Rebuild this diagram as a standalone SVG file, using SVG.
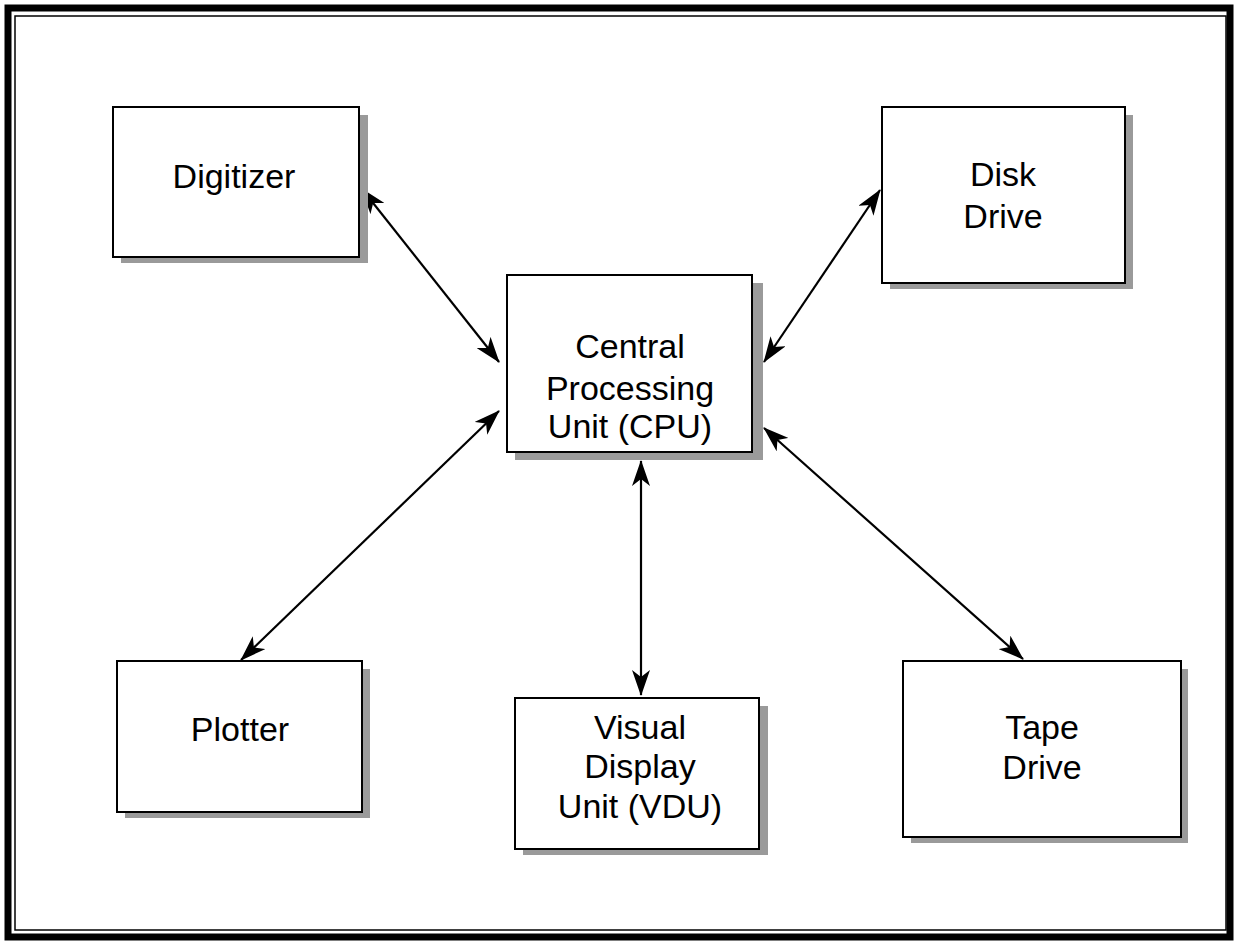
<svg xmlns="http://www.w3.org/2000/svg" width="1234" height="942" viewBox="0 0 1234 942">
<style>
.box{fill:#fff;stroke:#000;stroke-width:2}
.sh{fill:#9a9a9a}
.t{font-family:"Liberation Sans",Arial,sans-serif;font-size:34px;fill:#000;text-anchor:middle}
.c{stroke:#000;stroke-width:2.2;fill:none;marker-start:url(#a);marker-end:url(#a)}
</style>
<defs>
<marker id="a" viewBox="0 0 26 18" refX="25" refY="9" markerWidth="26" markerHeight="18" markerUnits="userSpaceOnUse" orient="auto-start-reverse">
<path d="M0,0 L26,9 L0,18 L7,9 Z" fill="#000"/>
</marker>
</defs>
<rect x="0" y="0" width="1234" height="942" fill="#fff"/>
<rect x="8" y="8" width="1222" height="929" fill="none" stroke="#000" stroke-width="7"/>
<rect x="15" y="16" width="1211" height="914" fill="none" stroke="#000" stroke-width="1.5"/>
<g id="connectors">
<line class="c" x1="362" y1="189" x2="499" y2="362"/>
<line class="c" x1="764" y1="362" x2="880" y2="190"/>
<line class="c" x1="499" y1="411" x2="241" y2="660"/>
<line class="c" x1="641" y1="461" x2="641" y2="695"/>
<line class="c" x1="764" y1="428" x2="1023" y2="659"/>
</g>
<g id="digitizer">
<rect class="sh" x="121" y="115" width="247" height="148"/>
<rect class="box" x="113" y="107" width="246" height="150"/>
<text class="t" x="234" y="188">Digitizer</text>
</g>
<g id="cpu">
<rect class="sh" x="515" y="283" width="248" height="177"/>
<rect class="box" x="507" y="275" width="245" height="177"/>
<text class="t" x="630" y="358">Central</text>
<text class="t" x="630" y="400">Processing</text>
<text class="t" x="630" y="438">Unit (CPU)</text>
</g>
<g id="disk">
<rect class="sh" x="890" y="115" width="243" height="174"/>
<rect class="box" x="882" y="107" width="243" height="176"/>
<text class="t" x="1003" y="186">Disk</text>
<text class="t" x="1003" y="228">Drive</text>
</g>
<g id="plotter">
<rect class="sh" x="125" y="669" width="245" height="149"/>
<rect class="box" x="117" y="661" width="245" height="151"/>
<text class="t" x="240" y="741">Plotter</text>
</g>
<g id="vdu">
<rect class="sh" x="523" y="706" width="245" height="149"/>
<rect class="box" x="515" y="698" width="244" height="151"/>
<text class="t" x="640" y="739">Visual</text>
<text class="t" x="640" y="778">Display</text>
<text class="t" x="640" y="818">Unit (VDU)</text>
</g>
<g id="tape">
<rect class="sh" x="911" y="669" width="277" height="174"/>
<rect class="box" x="903" y="661" width="278" height="176"/>
<text class="t" x="1042" y="739">Tape</text>
<text class="t" x="1042" y="779">Drive</text>
</g>
</svg>
